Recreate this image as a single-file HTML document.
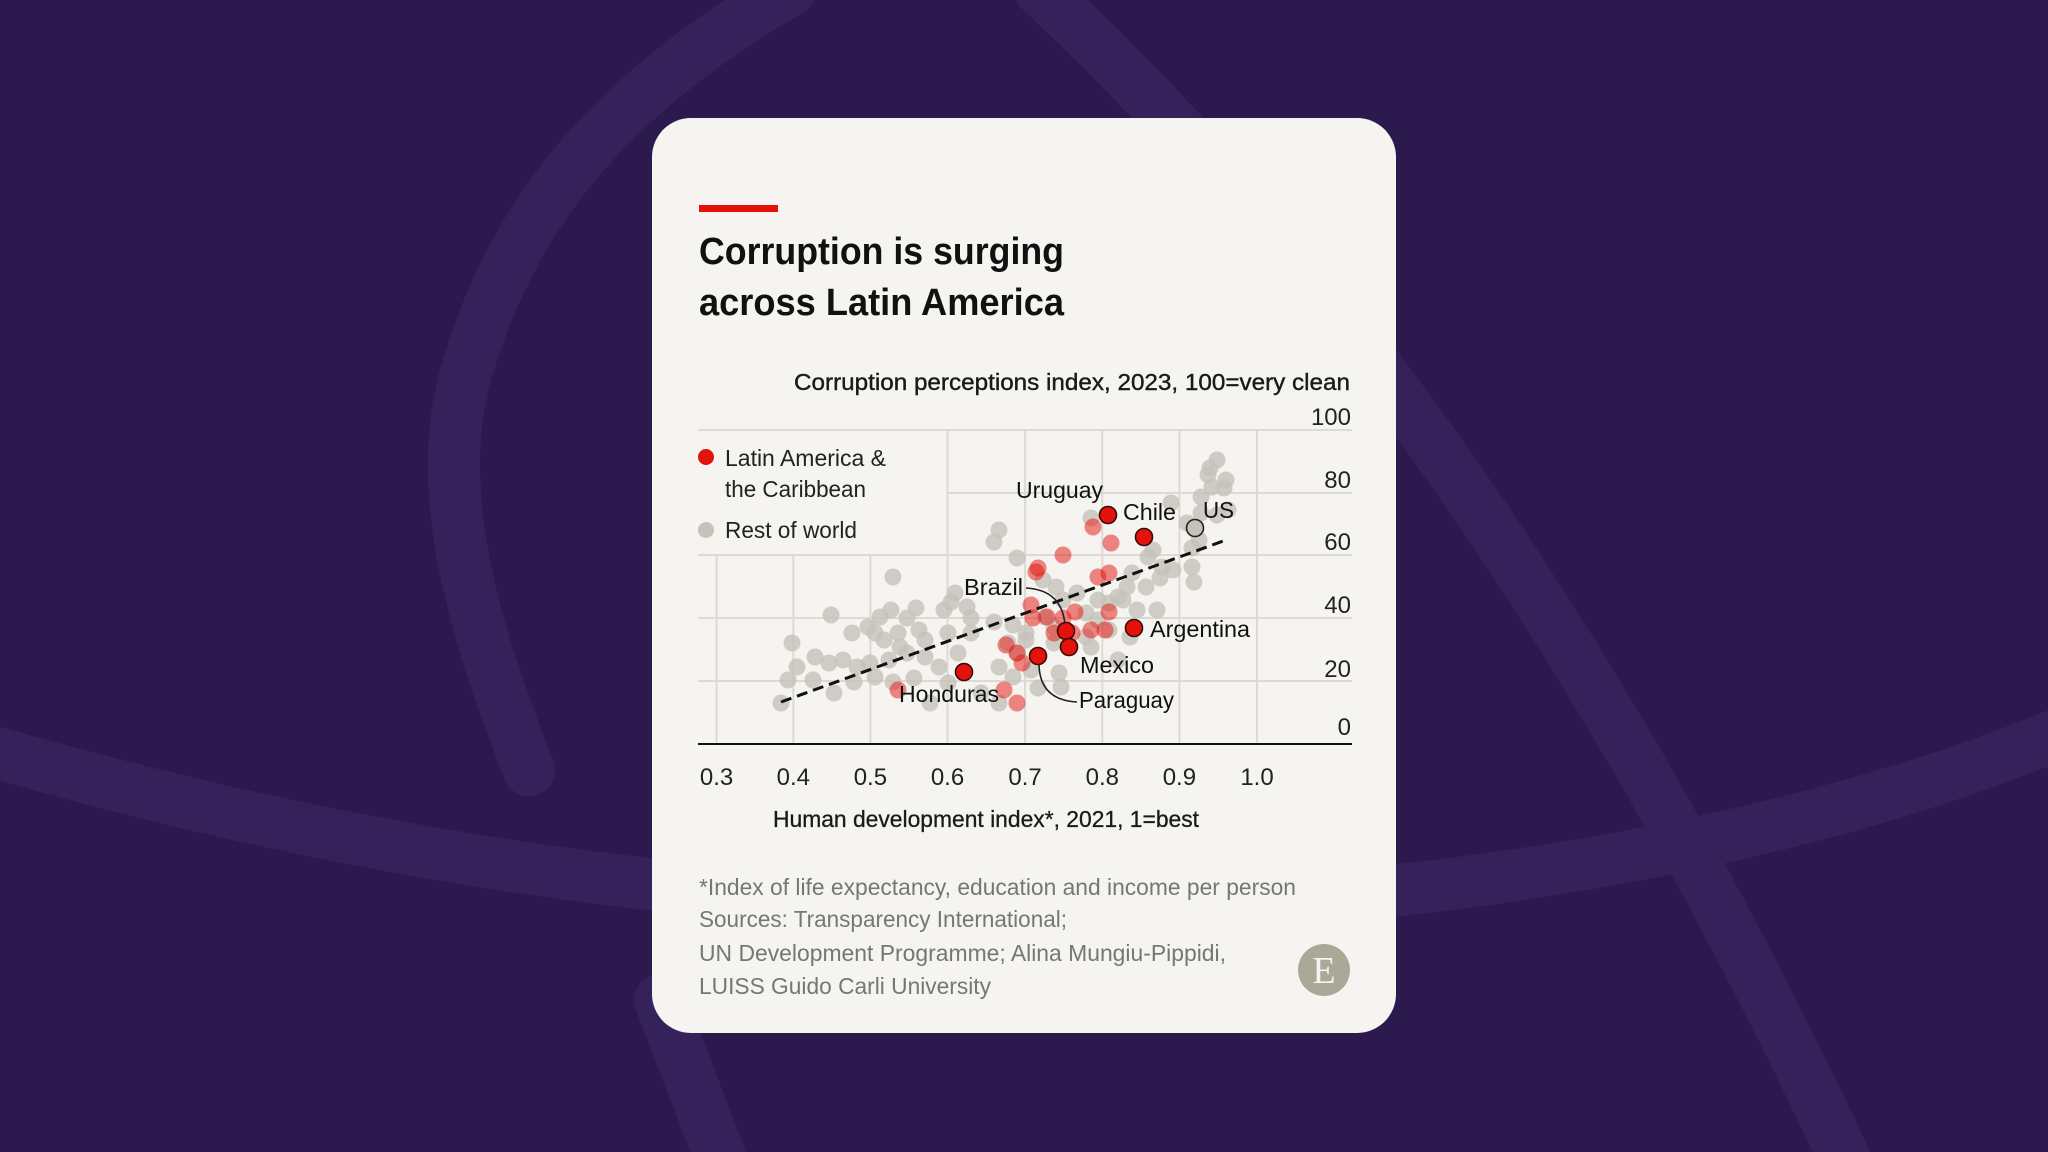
<!DOCTYPE html>
<html><head><meta charset="utf-8"><style>
html,body{margin:0;padding:0;background:#2c1a4e;}
svg{display:block;font-family:"Liberation Sans",sans-serif;}
</style></head><body>
<svg width="2048" height="1152" viewBox="0 0 2048 1152" xmlns="http://www.w3.org/2000/svg">
<rect width="2048" height="1152" fill="#2c1a4e"/>
<g fill="none" stroke="#36225b" stroke-width="52" stroke-linecap="round">
<path d="M529,770 C470,620 430,480 470,360 C520,200 620,90 790,-10"/>
<path d="M1040,-10 Q1500,420 1850,1170"/>
<path d="M-30,745 Q700,960 1400,890 Q1800,845 2080,725"/>
<path d="M660,1000 L725,1170"/>
</g>
<rect x="652" y="118" width="744" height="915" rx="39" fill="#f5f4f0"/>
<rect x="699" y="205" width="79" height="7" fill="#e3120b"/>
<text x="699" y="264" font-size="38" font-weight="bold" fill="#111" textLength="365" lengthAdjust="spacingAndGlyphs">Corruption is surging</text>
<text x="699" y="315" font-size="38" font-weight="bold" fill="#111" textLength="365" lengthAdjust="spacingAndGlyphs">across Latin America</text>
<text x="794" y="390" font-size="23" fill="#1a1a1a" stroke="#1a1a1a" stroke-width="0.4" textLength="556" lengthAdjust="spacingAndGlyphs">Corruption perceptions index, 2023, 100=very clean</text>
<g stroke="#dcdad3" stroke-width="2">
<line x1="698" y1="430" x2="1352" y2="430"/>
<line x1="947.5" y1="493" x2="1352" y2="493"/>
<line x1="698" y1="555" x2="1352" y2="555"/>
<line x1="698" y1="618" x2="1352" y2="618"/>
<line x1="698" y1="681" x2="1352" y2="681"/>
<line x1="716.6" y1="555" x2="716.6" y2="744"/>
<line x1="793.3" y1="555" x2="793.3" y2="744"/>
<line x1="870.4" y1="555" x2="870.4" y2="744"/>
<line x1="947.5" y1="430" x2="947.5" y2="744"/>
<line x1="1025.1" y1="430" x2="1025.1" y2="744"/>
<line x1="1102.3" y1="430" x2="1102.3" y2="744"/>
<line x1="1179.4" y1="430" x2="1179.4" y2="744"/>
<line x1="1257" y1="430" x2="1257" y2="744"/>
</g>
<line x1="698" y1="744" x2="1352" y2="744" stroke="#111" stroke-width="2"/>
<g font-size="24" fill="#222" text-anchor="end">
<text x="1351" y="425">100</text><text x="1351" y="488">80</text><text x="1351" y="550">60</text>
<text x="1351" y="613">40</text><text x="1351" y="677">20</text><text x="1351" y="735">0</text>
</g>
<g font-size="24" fill="#222" text-anchor="middle">
<text x="716.6" y="785">0.3</text><text x="793.3" y="785">0.4</text><text x="870.4" y="785">0.5</text>
<text x="947.5" y="785">0.6</text><text x="1025.1" y="785">0.7</text><text x="1102.3" y="785">0.8</text>
<text x="1179.4" y="785">0.9</text><text x="1257" y="785">1.0</text>
</g>
<text x="773" y="827" font-size="23" fill="#1a1a1a" stroke="#1a1a1a" stroke-width="0.3" textLength="426" lengthAdjust="spacingAndGlyphs">Human development index*, 2021, 1=best</text>
<g fill="#c4c2b9" fill-opacity="0.8">
<circle cx="1217" cy="460" r="8.5"/><circle cx="1210" cy="468" r="8.5"/><circle cx="1208" cy="475" r="8.5"/><circle cx="1226" cy="480" r="8.5"/><circle cx="1224" cy="488" r="8.5"/><circle cx="1212" cy="487" r="8.5"/><circle cx="1201" cy="497" r="8.5"/><circle cx="1228" cy="510" r="8.5"/><circle cx="1217" cy="515" r="8.5"/><circle cx="1201" cy="513" r="8.5"/><circle cx="1187" cy="523" r="8.5"/><circle cx="1171" cy="503" r="8.5"/><circle cx="1091" cy="518" r="8.5"/><circle cx="999" cy="530" r="8.5"/><circle cx="994" cy="542" r="8.5"/><circle cx="1199" cy="540" r="8.5"/><circle cx="1192" cy="548" r="8.5"/><circle cx="1153" cy="550" r="8.5"/><circle cx="1148" cy="557" r="8.5"/><circle cx="1162" cy="567" r="8.5"/><circle cx="1173" cy="570" r="8.5"/><circle cx="1192" cy="567" r="8.5"/><circle cx="1194" cy="582" r="8.5"/><circle cx="1146" cy="587" r="8.5"/><circle cx="1160" cy="578" r="8.5"/><circle cx="1132" cy="573" r="8.5"/><circle cx="1127" cy="587" r="8.5"/><circle cx="1118" cy="597" r="8.5"/><circle cx="1098" cy="600" r="8.5"/><circle cx="1077" cy="593" r="8.5"/><circle cx="1056" cy="587" r="8.5"/><circle cx="1043" cy="580" r="8.5"/><circle cx="1017" cy="558" r="8.5"/><circle cx="955" cy="593" r="8.5"/><circle cx="951" cy="602" r="8.5"/><circle cx="967" cy="607" r="8.5"/><circle cx="971" cy="618" r="8.5"/><circle cx="944" cy="610" r="8.5"/><circle cx="916" cy="608" r="8.5"/><circle cx="891" cy="610" r="8.5"/><circle cx="880" cy="617" r="8.5"/><circle cx="907" cy="618" r="8.5"/><circle cx="893" cy="577" r="8.5"/><circle cx="831" cy="615" r="8.5"/><circle cx="868" cy="627" r="8.5"/><circle cx="875" cy="633" r="8.5"/><circle cx="852" cy="633" r="8.5"/><circle cx="884" cy="640" r="8.5"/><circle cx="900" cy="647" r="8.5"/><circle cx="919" cy="630" r="8.5"/><circle cx="925" cy="640" r="8.5"/><circle cx="948" cy="633" r="8.5"/><circle cx="971" cy="633" r="8.5"/><circle cx="994" cy="622" r="8.5"/><circle cx="1013" cy="625" r="8.5"/><circle cx="1026" cy="633" r="8.5"/><circle cx="1045" cy="617" r="8.5"/><circle cx="1063" cy="600" r="8.5"/><circle cx="1086" cy="613" r="8.5"/><circle cx="1098" cy="620" r="8.5"/><circle cx="1123" cy="600" r="8.5"/><circle cx="1137" cy="610" r="8.5"/><circle cx="1130" cy="637" r="8.5"/><circle cx="1109" cy="630" r="8.5"/><circle cx="1086" cy="637" r="8.5"/><circle cx="1091" cy="647" r="8.5"/><circle cx="1054" cy="643" r="8.5"/><circle cx="1026" cy="640" r="8.5"/><circle cx="1008" cy="643" r="8.5"/><circle cx="1017" cy="653" r="8.5"/><circle cx="999" cy="667" r="8.5"/><circle cx="1013" cy="677" r="8.5"/><circle cx="1031" cy="670" r="8.5"/><circle cx="1059" cy="673" r="8.5"/><circle cx="1061" cy="687" r="8.5"/><circle cx="1038" cy="688" r="8.5"/><circle cx="939" cy="667" r="8.5"/><circle cx="925" cy="657" r="8.5"/><circle cx="907" cy="653" r="8.5"/><circle cx="889" cy="660" r="8.5"/><circle cx="870" cy="663" r="8.5"/><circle cx="857" cy="667" r="8.5"/><circle cx="843" cy="660" r="8.5"/><circle cx="829" cy="663" r="8.5"/><circle cx="815" cy="657" r="8.5"/><circle cx="797" cy="667" r="8.5"/><circle cx="788" cy="680" r="8.5"/><circle cx="792" cy="643" r="8.5"/><circle cx="813" cy="680" r="8.5"/><circle cx="834" cy="693" r="8.5"/><circle cx="854" cy="682" r="8.5"/><circle cx="875" cy="677" r="8.5"/><circle cx="893" cy="682" r="8.5"/><circle cx="914" cy="678" r="8.5"/><circle cx="930" cy="703" r="8.5"/><circle cx="948" cy="683" r="8.5"/><circle cx="981" cy="693" r="8.5"/><circle cx="999" cy="703" r="8.5"/><circle cx="781" cy="703" r="8.5"/><circle cx="1118" cy="660" r="8.5"/><circle cx="1157" cy="610" r="8.5"/><circle cx="1109" cy="603" r="8.5"/><circle cx="1054" cy="627" r="8.5"/><circle cx="958" cy="653" r="8.5"/><circle cx="898" cy="633" r="8.5"/>
</g>
<g fill="#e3120b" fill-opacity="0.5">
<circle cx="1093" cy="527" r="8.5"/><circle cx="1111" cy="543" r="8.5"/><circle cx="1063" cy="555" r="8.5"/><circle cx="1038" cy="568" r="8.5"/><circle cx="1036" cy="572" r="8.5"/><circle cx="1098" cy="577" r="8.5"/><circle cx="1109" cy="573" r="8.5"/><circle cx="1031" cy="605" r="8.5"/><circle cx="1033" cy="618" r="8.5"/><circle cx="1047" cy="617" r="8.5"/><circle cx="1063" cy="618" r="8.5"/><circle cx="1075" cy="612" r="8.5"/><circle cx="1109" cy="612" r="8.5"/><circle cx="1105" cy="630" r="8.5"/><circle cx="1054" cy="633" r="8.5"/><circle cx="1006" cy="645" r="8.5"/><circle cx="1017" cy="653" r="8.5"/><circle cx="1022" cy="663" r="8.5"/><circle cx="1004" cy="690" r="8.5"/><circle cx="898" cy="690" r="8.5"/><circle cx="1017" cy="703" r="8.5"/><circle cx="1072" cy="633" r="8.5"/><circle cx="1091" cy="630" r="8.5"/>
</g>
<line x1="781" y1="702" x2="1226" y2="540" stroke="#111" stroke-width="3" stroke-dasharray="11,6"/>
<g fill="none" stroke="#222" stroke-width="1.6">
<path d="M1026,588 Q1062,590 1065,625"/>
<path d="M1039,665 Q1040,700 1077,702"/>
</g>
<g fill="#e3120b" stroke="#3a0a08" stroke-width="1.6">
<circle cx="1108" cy="515" r="8.5"/><circle cx="1144" cy="537" r="8.5"/><circle cx="1134" cy="628" r="8.5"/><circle cx="1066" cy="631" r="8.5"/><circle cx="1069" cy="647" r="8.5"/><circle cx="1038" cy="656" r="8.5"/><circle cx="964" cy="672" r="8.5"/>
</g>
<circle cx="1195" cy="528" r="8.5" fill="#c4c2b9" stroke="#222" stroke-width="1.6"/>
<g font-size="23" fill="#111">
<text x="1016" y="498" textLength="87" lengthAdjust="spacingAndGlyphs">Uruguay</text>
<text x="1123" y="520" textLength="53" lengthAdjust="spacingAndGlyphs">Chile</text>
<text x="1203" y="518" textLength="31" lengthAdjust="spacingAndGlyphs">US</text>
<text x="1150" y="637" textLength="100" lengthAdjust="spacingAndGlyphs">Argentina</text>
<text x="964" y="595" textLength="59" lengthAdjust="spacingAndGlyphs">Brazil</text>
<text x="1080" y="673" textLength="74" lengthAdjust="spacingAndGlyphs">Mexico</text>
<text x="1079" y="708" textLength="95" lengthAdjust="spacingAndGlyphs">Paraguay</text>
<text x="899" y="702" textLength="100" lengthAdjust="spacingAndGlyphs">Honduras</text>
</g>
<circle cx="706" cy="457" r="8" fill="#e3120b"/>
<circle cx="706" cy="530" r="8" fill="#c4c2b9"/>
<g font-size="23" fill="#222">
<text x="725" y="466" textLength="161" lengthAdjust="spacingAndGlyphs">Latin America &amp;</text>
<text x="725" y="497" textLength="141" lengthAdjust="spacingAndGlyphs">the Caribbean</text>
<text x="725" y="538" textLength="132" lengthAdjust="spacingAndGlyphs">Rest of world</text>
</g>
<g font-size="23" fill="#767676">
<text x="699" y="895" textLength="597" lengthAdjust="spacingAndGlyphs">*Index of life expectancy, education and income per person</text>
<text x="699" y="927" textLength="368" lengthAdjust="spacingAndGlyphs">Sources: Transparency International;</text>
<text x="699" y="961" textLength="527" lengthAdjust="spacingAndGlyphs">UN Development Programme; Alina Mungiu-Pippidi,</text>
<text x="699" y="994" textLength="292" lengthAdjust="spacingAndGlyphs">LUISS Guido Carli University</text>
</g>
<circle cx="1324" cy="970" r="26" fill="#aba898"/>
<text x="1324" y="983" font-family="Liberation Serif,serif" font-size="38" fill="#f5f4f0" text-anchor="middle">E</text>
</svg>
</body></html>
